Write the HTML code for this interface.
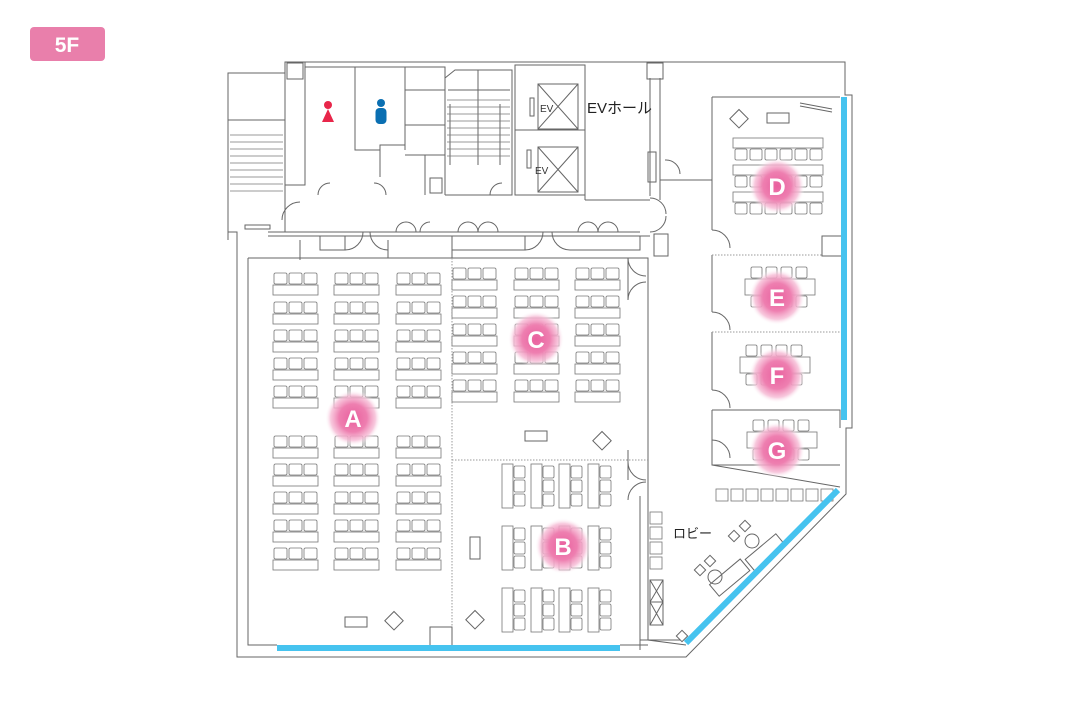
<!DOCTYPE html>
<html><head><meta charset="utf-8">
<style>
html,body{margin:0;padding:0;background:#fff;}
#wrap{position:relative;width:1080px;height:720px;overflow:hidden;font-family:"Liberation Sans","Noto Sans CJK JP",sans-serif;}
svg{position:absolute;left:0;top:0}
</style></head><body><div id="wrap">
<svg id="s" width="1080" height="720" viewBox="0 0 1080 720">
<defs>
<radialGradient id="pg">
<stop offset="0" stop-color="#e9609e"/>
<stop offset="0.5" stop-color="#ee7fb0"/>
<stop offset="0.8" stop-color="#f6bbd5" stop-opacity="0.8"/>
<stop offset="1" stop-color="#fff" stop-opacity="0"/>
</radialGradient>
</defs>
<rect x="30" y="27" width="75" height="34" rx="4" fill="#e97fab"/>
<text x="67" y="52" font-size="21" font-weight="bold" fill="#fff" text-anchor="middle" font-family="Liberation Sans, sans-serif">5F</text>
<g id="walls" fill="none" stroke="#666" stroke-width="1">
<path d="M237 232 V657 H686 L846 494 V428 H852 V95 H845 V62 H285 V73 H228 V232 Z" fill="none"/>
<path d="M248 258 H648 V640 L686 645"/>
<path d="M248 258 V645 H277 M620 645 H648"/>
<path d="M268 232 H640 M268 236 H650"/>
<path d="M285 62 V232 M305 62 V185 H285"/>
<rect x="287" y="63" width="16" height="16"/>
<rect x="647" y="63" width="16" height="16"/>
<rect x="654" y="234" width="14" height="22"/>
<path d="M305 67 H405 V145 H380 V177 M405 67 V150 M355 67 V150 H380"/>
<path d="M405 67 H445 V195 M405 90 H445 M405 125 H445 M405 155 H445 M425 155 V195"/>
<rect x="430" y="178" width="12" height="15"/>
<path d="M445 78 L455 70 H512 V195 H445"/>
<path d="M448 90 H510 M450 104 V165 M500 104 V165 M478 70 V165"/>
<g id="stair2"></g>
<rect x="515" y="65" width="70" height="130"/>
<rect x="538" y="84" width="40" height="45"/>
<path d="M538 84 L578 129 M578 84 L538 129"/>
<rect x="538" y="147" width="40" height="45"/>
<path d="M538 147 L578 192 M578 147 L538 192"/>
<path d="M515 130 H585"/>
<rect x="530" y="98" width="4" height="18"/>
<rect x="527" y="150" width="4" height="18"/>
<path d="M585 68 V200 M585 200 H650 M650 78 V196 M660 78 V200"/>
<rect x="648" y="152" width="8" height="30"/>
<path d="M228 120 H285 M228 240 V73"/>
<g id="stair1"></g>
<rect x="245" y="225" width="25" height="4"/>
<path d="M300 240 V260 M320 236 H345 V250 H320 Z M388 236 H452 V258 M388 240 V258 M452 236 H525 V250 H452 M570 236 H640 V250 H570"/>
<path d="M628 258 V300 M628 450 V480 M648 480 V640"/>
<!-- door arcs -->
<path d="M282 220 A18 18 0 0 1 300 202 M318 195 A12 12 0 0 1 330 183 M386 195 A12 12 0 0 0 374 183 M490 195 A12 12 0 0 1 502 183 M345 250 A18 18 0 0 0 363 232 M388 250 A18 18 0 0 1 370 232 M525 250 A18 18 0 0 0 543 232 M570 250 A18 18 0 0 1 552 232 M396 232 A10 10 0 0 1 406 222 A10 10 0 0 1 416 232 M420 232 A10 10 0 0 1 430 222 M458 232 A10 10 0 0 1 468 222 A10 10 0 0 1 478 232 A10 10 0 0 1 488 222 A10 10 0 0 1 498 232 M578 232 A10 10 0 0 1 588 222 A10 10 0 0 1 598 232 A10 10 0 0 1 608 222 A10 10 0 0 1 618 232 M628 258 A18 18 0 0 0 646 276 M628 300 A18 18 0 0 1 646 282 M628 462 A18 18 0 0 0 646 480 M628 500 A18 18 0 0 1 646 482 M650 198 A16 16 0 0 1 666 214 M650 232 A16 16 0 0 0 666 216 M712 230 A18 18 0 0 1 730 248 M712 312 A18 18 0 0 1 730 330 M712 390 A18 18 0 0 1 730 408 M712 440 A18 18 0 0 1 730 458 M665 160 A14 14 0 0 1 680 174"/>
<path d="M452 258 V645" stroke-dasharray="1.5 1.5" stroke="#999"/>
<path d="M452 460 H648" stroke-dasharray="1.5 1.5" stroke="#999"/>
<rect x="430" y="627" width="22" height="22" fill="#fff"/>
<rect x="345" y="617" width="22" height="10"/>
<rect x="388" y="614" width="13" height="13" transform="rotate(45 394 620)"/>
<rect x="469" y="613" width="13" height="13" transform="rotate(45 475 619)"/>
<rect x="525" y="431" width="22" height="10"/>
<rect x="596" y="434" width="13" height="13" transform="rotate(45 602 440)"/>
<rect x="470" y="537" width="10" height="22"/>
<path d="M712 97 H840 M712 97 V230 M712 255 V312 M712 332 V390 M712 410 V465 H840 M712 180 H660"/>
<path d="M712 255 H840 M712 332 H840" stroke-dasharray="1.5 1.5" stroke="#999"/>
<path d="M712 410 H840 V428"/>
<rect x="822" y="236" width="22" height="20" fill="#fff"/>
<rect x="733" y="112" width="13" height="13" transform="rotate(45 739 118)"/>
<rect x="767" y="113" width="22" height="10"/>
<path d="M800 103 L832 109 M800 106 L832 112"/>
<path d="M640 496 V650"/>
<path d="M712 465 L840 487"/>
<rect x="650" y="580" width="13" height="45"/>
<path d="M650 580 L663 602 L650 625 M663 580 L650 602 L663 625 M650 602 H663"/>
<path d="M640 640 L680 640"/>
<rect x="678" y="632" width="8" height="8" transform="rotate(45 682 636)"/>
<rect x="710" y="570" width="40" height="15" transform="rotate(-40 730 578)"/>
<rect x="745" y="545" width="40" height="15" transform="rotate(-40 765 552)"/>
<circle cx="715" cy="577" r="7"/><circle cx="752" cy="541" r="7"/>
<rect x="696" y="566" width="8" height="8" transform="rotate(45 700 570)"/>
<rect x="706" y="557" width="8" height="8" transform="rotate(45 710 561)"/>
<rect x="730" y="532" width="8" height="8" transform="rotate(45 734 536)"/>
<rect x="741" y="522" width="8" height="8" transform="rotate(45 745 526)"/>
</g>
<g id="furn" fill="#fff" stroke="#777" stroke-width="0.8"></g>
<rect x="277" y="645" width="343" height="6" fill="#46c3ef"/>
<rect x="841" y="97" width="6" height="323" fill="#46c3ef"/>
<path d="M838 490 L686 643" stroke="#46c3ef" stroke-width="6"/>
<circle cx="328" cy="105" r="4" fill="#e8264a"/>
<path d="M328 109 L322 122 H334 Z" fill="#e8264a"/>
<circle cx="381" cy="103" r="4" fill="#0a6fb2"/>
<rect x="375.5" y="108" width="11" height="16" rx="4" fill="#0a6fb2"/>
<text x="540" y="112" font-size="10" fill="#333">EV</text>
<text x="535" y="174" font-size="10" fill="#333">EV</text>
<text x="587" y="113" font-size="15" fill="#222">EVホール</text>
<text x="673" y="538" font-size="13" fill="#222">ロビー</text>
<g id="circles"></g>
</svg>
<script>
var ns="http://www.w3.org/2000/svg",F=document.getElementById('furn');
function el(p,t,a){var e=document.createElementNS(ns,t);for(var k in a)e.setAttribute(k,a[k]);p.appendChild(e);return e;}
function hgroup(x,y,n){for(var i=0;i<n;i++){el(F,'rect',{x:x+1+i*15,y:y,width:13,height:11,rx:1.5});}el(F,'rect',{x:x,y:y+12,width:n*15,height:10});}
[273,334,396].forEach(function(x){[273,302,330,358,386,436,464,492,520,548].forEach(function(y){hgroup(x,y,3);});});
[452,514,575].forEach(function(x){[268,296,324,352,380].forEach(function(y){hgroup(x,y,3);});});
[502,531,559,588].forEach(function(x){[464,526,588].forEach(function(y){el(F,'rect',{x:x,y:y,width:11,height:44});for(var i=0;i<3;i++)el(F,'rect',{x:x+12,y:y+2+i*14,width:11,height:12,rx:1.5});});});
for(var r=0;r<3;r++){el(F,'rect',{x:733,y:138+r*27,width:90,height:10});for(var i=0;i<6;i++)el(F,'rect',{x:735+i*15,y:149+r*27,width:12,height:11,rx:1.5});}
[[287,745],[365,740],[440,747]].forEach(function(a){el(F,'rect',{x:a[1],y:a[0]-8,width:70,height:16});for(var i=0;i<4;i++){el(F,'rect',{x:a[1]+6+i*15,y:a[0]-20,width:11,height:11,rx:1.5});el(F,'rect',{x:a[1]+6+i*15,y:a[0]+9,width:11,height:11,rx:1.5});}});
for(var i=0;i<8;i++)el(F,'rect',{x:716+i*15,y:489,width:12,height:12});
for(var i=0;i<4;i++)el(F,'rect',{x:650,y:512+i*15,width:12,height:12});
function stairs(g,x1,x2,y1,y2){var G=document.getElementById(g);for(var y=y1;y<=y2;y+=7)el(G,'line',{x1:x1,y1:y,x2:x2,y2:y,stroke:'#777','stroke-width':0.8});}
stairs('stair1',230,283,135,195);stairs('stair2',447,510,100,160);
var C=document.getElementById('circles');
[['A',353,418],['C',536,339],['B',563,546],['D',777,186],['E',777,297],['F',777,375],['G',777,450]].forEach(function(c){el(C,'circle',{cx:c[1],cy:c[2],r:28,fill:'url(#pg)'});});
</script>
<svg width="1080" height="720" style="pointer-events:none">
<g font-family="Liberation Sans, sans-serif" font-weight="bold" font-size="24" fill="#fff" text-anchor="middle">
<text x="353" y="427">A</text><text x="536" y="348">C</text><text x="563" y="555">B</text>
<text x="777" y="195">D</text><text x="777" y="306">E</text><text x="777" y="384">F</text><text x="777" y="459">G</text>
</g></svg>
</div></body></html>
